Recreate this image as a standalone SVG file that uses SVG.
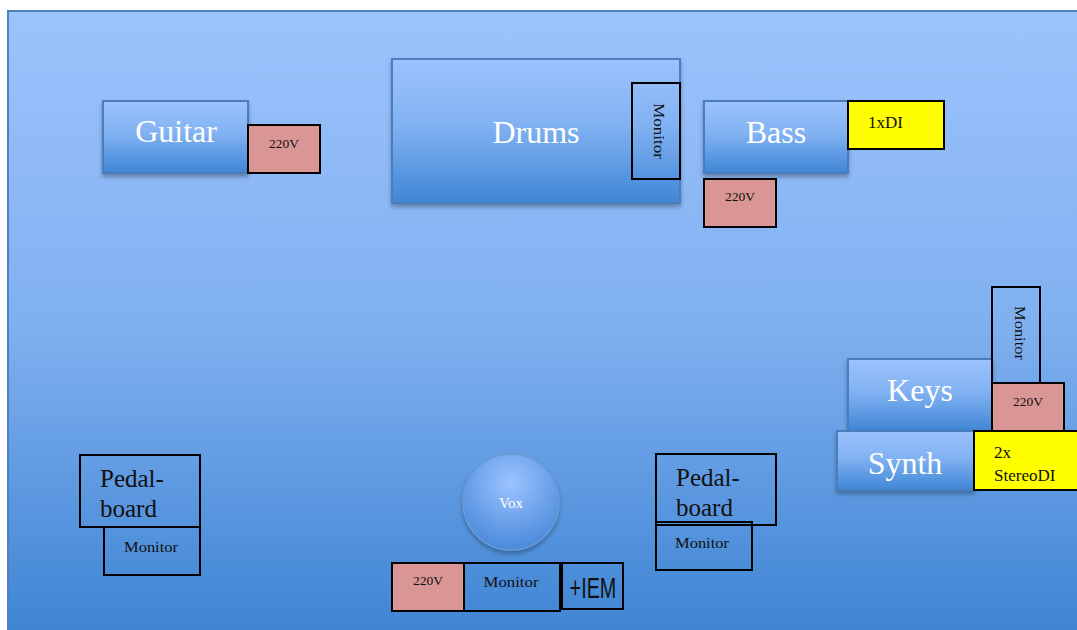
<svg xmlns="http://www.w3.org/2000/svg" width="1077" height="630" viewBox="0 0 1077 630">
<defs>
<linearGradient id="bg" x1="0" y1="0" x2="0" y2="1">
<stop offset="0" stop-color="#9DC3FD"/>
<stop offset="0.5" stop-color="#80B0F0"/>
<stop offset="1" stop-color="#3E84D3"/>
</linearGradient>
<linearGradient id="box" x1="0" y1="0" x2="0" y2="1">
<stop offset="0" stop-color="#9CC2FE"/>
<stop offset="0.45" stop-color="#82B2F2"/>
<stop offset="1" stop-color="#3F86D6"/>
</linearGradient>
<radialGradient id="circ" cx="0.5" cy="0.3" r="0.7">
<stop offset="0" stop-color="#9CC3FF"/>
<stop offset="1" stop-color="#4A8ADA"/>
</radialGradient>
<filter id="sh" x="-10%" y="-10%" width="125%" height="130%">
<feDropShadow dx="0" dy="3" stdDeviation="2" flood-color="#000" flood-opacity="0.3"/>
</filter>
</defs>
<style>
.blue{fill:url(#box);stroke:#4A7EBB;stroke-width:2;filter:url(#sh)}
.pwr{fill:#DA9694;stroke:#000;stroke-width:2}
.di{fill:#FFFF00;stroke:#000;stroke-width:2}
.out{fill:none;stroke:#000;stroke-width:2}
.big{font-family:"Liberation Serif","DejaVu Serif",serif;font-size:32px;fill:#fff;text-anchor:middle}
.small{font-family:"Liberation Serif","DejaVu Serif",serif;font-size:13.5px;fill:#111;text-anchor:middle}
.mon{font-family:"Liberation Serif","DejaVu Serif",serif;font-size:15px;fill:#111;text-anchor:middle}
.mid{font-family:"Liberation Serif","DejaVu Serif",serif;font-size:17px;fill:#111}
.ped{font-family:"Liberation Serif","DejaVu Serif",serif;font-size:25px;fill:#111}
</style>
<rect x="0" y="0" width="1077" height="630" fill="#fff"/>
<rect x="8" y="11" width="1075" height="625" fill="url(#bg)" stroke="#4F81BD" stroke-width="2"/>

<g id="guitar">
<rect class="blue" x="103" y="101" width="145" height="72"/>
<text class="big" x="176" y="142">Guitar</text>
<rect class="pwr" x="248" y="125" width="72" height="48"/>
<text class="small" x="284" y="148">220V</text>
</g>

<g id="drums">
<rect class="blue" x="392" y="59" width="288" height="144"/>
<text class="big" x="536" y="143">Drums</text>
<rect class="out" x="632" y="83" width="48" height="96"/>
<text class="mon" transform="translate(654,131) rotate(90)" y="0" textLength="56" lengthAdjust="spacingAndGlyphs">Monitor</text>
</g>

<g id="bass">
<rect class="blue" x="704" y="101" width="144" height="72"/>
<text class="big" x="776" y="143">Bass</text>
<rect class="di" x="848" y="101" width="96" height="48"/>
<text class="mid" x="868" y="128">1xDI</text>
<rect class="pwr" x="704" y="179" width="72" height="48"/>
<text class="small" x="740" y="201">220V</text>
</g>

<g id="keys">
<rect class="blue" x="848" y="359" width="144" height="72"/>
<text class="big" x="920" y="401">Keys</text>
<rect class="out" x="992" y="287" width="48" height="96"/>
<text class="mon" transform="translate(1015,333) rotate(90)" y="0" textLength="54" lengthAdjust="spacingAndGlyphs">Monitor</text>
<rect class="pwr" x="992" y="383" width="72" height="48"/>
<text class="small" x="1028" y="406">220V</text>
</g>

<g id="synth">
<rect class="blue" x="837" y="431" width="137" height="59"/>
<text class="big" x="905" y="474">Synth</text>
<rect class="di" x="974" y="431" width="104" height="59"/>
<text class="mid" x="994" y="458">2x</text>
<text class="mid" x="994" y="481">StereoDI</text>
</g>

<g id="pedalboard-left">
<rect class="out" x="80" y="455" width="120" height="72"/>
<text class="ped" x="100" y="487">Pedal-</text>
<text class="ped" x="100" y="517">board</text>
<rect class="out" x="104" y="527" width="96" height="48"/>
<text class="mon" x="151" y="552" textLength="54" lengthAdjust="spacingAndGlyphs">Monitor</text>
</g>

<g id="vox">
<circle cx="511" cy="502" r="48" fill="url(#circ)" stroke="#6A9BD6" stroke-width="1.5" filter="url(#sh)"/>
<text x="511" y="508" font-family="Liberation Serif, DejaVu Serif, serif" font-size="15" fill="#fff" text-anchor="middle">Vox</text>
<rect class="pwr" x="392" y="563" width="72" height="48"/>
<text class="small" x="428" y="585">220V</text>
<rect class="out" x="464" y="563" width="96" height="48"/>
<text class="mon" x="511" y="587" textLength="55" lengthAdjust="spacingAndGlyphs">Monitor</text>
<rect class="out" x="562" y="563" width="61" height="46" stroke-width="2.5"/>
<text x="593" y="598" font-family="Liberation Sans, Arial, sans-serif" font-size="30" fill="#111" text-anchor="middle" transform="translate(593,0) scale(0.66,1) translate(-593,0)">+IEM</text>
</g>

<g id="pedalboard-right">
<rect class="out" x="656" y="454" width="120" height="71"/>
<text class="ped" x="676" y="486">Pedal-</text>
<text class="ped" x="676" y="516">board</text>
<rect class="out" x="656" y="522" width="96" height="48"/>
<text class="mon" x="702" y="548" textLength="54" lengthAdjust="spacingAndGlyphs">Monitor</text>
</g>

<g id="connectors"/>
</svg>
